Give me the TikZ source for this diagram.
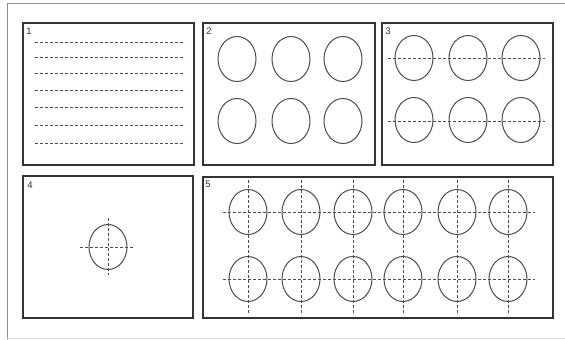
\documentclass[tikz,border=0pt]{standalone}
\usepackage{fontspec}
\setmainfont{Liberation Sans}
\usetikzlibrary{shapes.geometric}
\begin{document}
\begin{tikzpicture}[x=1pt,y=-1pt,
  panel/.style={draw=black!80,line width=1.2pt},
  cell/.style={ellipse,draw=black!70,line width=1pt,minimum width=38pt,minimum height=45pt,inner sep=0pt},
  guide/.style={draw=black!70,line width=1pt,dash pattern=on 3pt off 2pt},
  lbl/.style={font=\fontsize{9.5}{9.5}\selectfont,text=black!80,inner sep=0pt,anchor=center}]
\useasboundingbox (0,0) rectangle (565,340);
\fill[white] (0,0) rectangle (565,340);
% outer frame
\draw[black!45,line width=1pt] (565,3) -- (7,3) -- (7,340);
\draw[black!12,line width=0.8pt] (7,338) -- (565,338);
% panels
\draw[panel] (23,23) rectangle (194,165);
\draw[panel] (203,23) rectangle (375,165);
\draw[panel] (382,23) rectangle (553,165);
\draw[panel] (23,176) rectangle (193,318);
\draw[panel] (203,177) rectangle (553,318);
\node[lbl] (l1) at (29,31) {1};
\node[lbl] (l2) at (209,31) {2};
\node[lbl] (l3) at (388,31) {3};
\node[lbl] (l4) at (30,185) {4};
\node[lbl] (l5) at (208,184) {5};
% panel 1
\foreach \y in {42,57,73,90,107,125,143} \draw[guide] (35,\y) -- (185,\y);
% panel 2
\foreach \x/\n in {237/a,291/b,343/c} {
  \node[cell] (p2t\n) at (\x,59) {};
  \node[cell] (p2b\n) at (\x,121) {};
}
% panel 3
\foreach \x/\n in {414/a,468/b,521/c} {
  \node[cell] (p3t\n) at (\x,58) {};
  \node[cell] (p3b\n) at (\x,120) {};
}
\draw[guide] (388,58) -- (545,58);
\draw[guide] (388,121) -- (545,121);
% panel 4
\node[cell] (p4) at (108,247) {};
\draw[guide] (80,247) -- (134,247);
\draw[guide] (108,218) -- (108,275);
% panel 5
\foreach \x/\n in {248/a,301/b,353/c,403/d,457/e,508/f} {
  \node[cell] (p5t\n) at (\x,212) {};
  \node[cell] (p5b\n) at (\x,279) {};
  \draw[guide] (\x,180) -- (\x,313);
}
\draw[guide] (223,212) -- (535,212);
\draw[guide] (223,279) -- (535,279);
\end{tikzpicture}
\end{document}
